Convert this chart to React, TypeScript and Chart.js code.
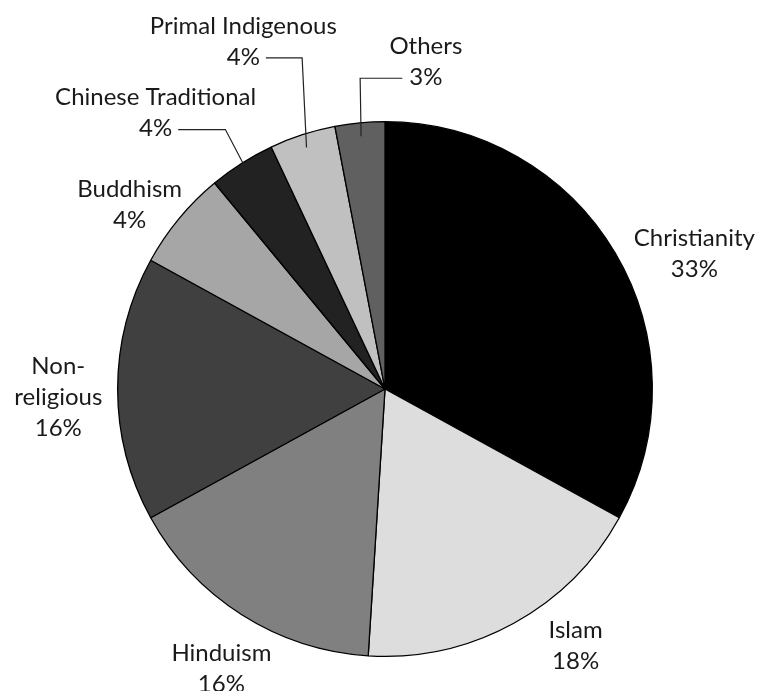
import React, { useEffect, useRef } from "react";
import { Chart, registerables } from "chart.js";

Chart.register(...registerables);

// ---- data ----
const categories = [
  "Christianity",
  "Islam",
  "Hinduism",
  "Non-religious",
  "Buddhism",
  "Chinese Traditional",
  "Primal Indigenous",
  "Others",
];
const shares = [33, 18, 16, 16, 6, 4, 4, 3];
const percentLabels = ["33%", "18%", "16%", "16%", "4%", "4%", "4%", "3%"];
const nameLines = [
  ["Christianity"],
  ["Islam"],
  ["Hinduism"],
  ["Non-", "religious"],
  ["Buddhism"],
  ["Chinese Traditional"],
  ["Primal Indigenous"],
  ["Others"],
];
const sliceColors = [
  "#000000",
  "#dddddd",
  "#808080",
  "#404040",
  "#a6a6a6",
  "#222222",
  "#c0c0c0",
  "#606060",
];

// ---- label layout (relative to pie centre, in units of the radius) ----
const labelOffsets = [
  [1.157, -0.506],
  [0.713, 0.959],
  [-0.612, 1.045],
  [-1.222, 0.03],
  [-0.955, -0.69],
  [-0.858, -1.032],
  [-0.53, -1.3],
  [0.153, -1.224],
];
// leader lines: index -> side of the percent text, elbow x (radius units)
const leaders: Record<number, { side: "left" | "right"; elbowX: number }> = {
  5: { side: "right", elbowX: -0.597 },
  6: { side: "right", elbowX: -0.31 },
  7: { side: "left", elbowX: -0.093 },
};

const FONT = "400 24px Lato";
const LINE_H = 31;

const labelPlugin = {
  id: "pieLabels",
  afterDatasetsDraw(chart: any) {
    const ctx = chart.ctx;
    const meta = chart.getDatasetMeta(0);
    ctx.save();
    ctx.font = FONT;
    ctx.fillStyle = "#1a1a1a";
    ctx.textAlign = "center";
    ctx.textBaseline = "middle";
    meta.data.forEach((arc: any, i: number) => {
      const { x, y, outerRadius: r, startAngle, endAngle } = arc.getProps(
        ["x", "y", "outerRadius", "startAngle", "endAngle"],
        true
      );
      const lines = [...nameLines[i], percentLabels[i]];
      const cx = x + labelOffsets[i][0] * r;
      const cy = y + labelOffsets[i][1] * r;
      const n = lines.length;
      lines.forEach((t, k) => {
        ctx.fillText(t, cx, cy + (k - (n - 1) / 2) * LINE_H);
      });
      const ld = leaders[i];
      if (ld) {
        const pctY = cy + ((n - 1) / 2) * LINE_H;
        const w = ctx.measureText(percentLabels[i]).width;
        const sx = ld.side === "right" ? cx + w / 2 + 6 : cx - w / 2 - 7;
        const ex = x + ld.elbowX * r;
        const mid = (startAngle + endAngle) / 2;
        const px = x + Math.cos(mid) * r * 0.95;
        const py = y + Math.sin(mid) * r * 0.95;
        ctx.beginPath();
        ctx.strokeStyle = "#222222";
        ctx.lineWidth = 1.2;
        ctx.moveTo(sx, pctY + 1);
        ctx.lineTo(ex, pctY + 1);
        ctx.lineTo(px, py);
        ctx.stroke();
      }
    });
    ctx.restore();
  },
};

export default function App() {
  const ref = useRef<HTMLCanvasElement>(null);
  useEffect(() => {
    if (!ref.current) return;
    const chart = new Chart(ref.current, {
      type: "pie",
      data: {
        labels: categories,
        datasets: [
          {
            data: shares,
            backgroundColor: sliceColors,
            borderColor: "#000000",
            borderWidth: 1.3,
          },
        ],
      },
      options: {
        responsive: false,
        animation: false,
        layout: { padding: { top: 121, bottom: 34, left: 117, right: 106 } },
        plugins: {
          legend: { display: false },
          tooltip: { enabled: false },
        },
      },
      plugins: [labelPlugin],
    });
    return () => chart.destroy();
  }, []);
  return (
    <div
      style={{
        position: "fixed",
        left: 0,
        top: 0,
        width: 759,
        height: 691,
        background: "#ffffff",
      }}
    >
      <canvas ref={ref} width={759} height={691} />
    </div>
  );
}
